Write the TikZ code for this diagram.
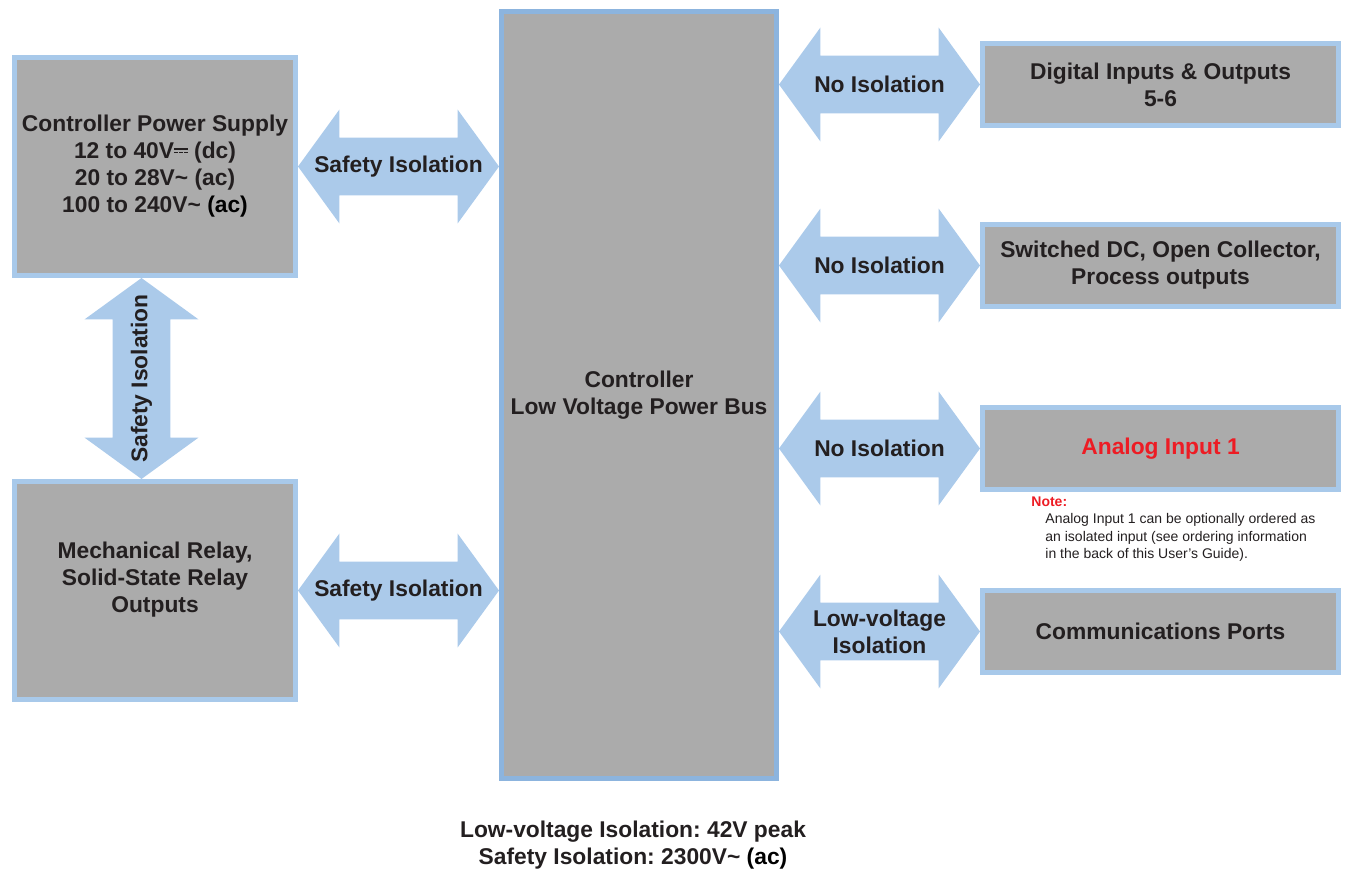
\documentclass[tikz,border=0pt]{standalone}
\usepackage{fontspec}
\setmainfont{Liberation Sans}
\usepackage{tikz}
\usetikzlibrary{
	positioning,
	shapes.arrows
}
\frenchspacing
\definecolor{BusBlue}{RGB}{140,180,222}
\definecolor{FrameBlue}{RGB}{168,201,234}
\definecolor{ArrowBlue}{RGB}{171,202,234}
\definecolor{UnitGray}{RGB}{171,171,171}
\definecolor{InkDark}{RGB}{35,31,32}
\definecolor{NoteRed}{RGB}{237,28,36}

% dc mark: solid bar over dashed bar
\newcommand{\dcsym}{%
	\raisebox{0.40em}{\rlap{\rule{0.6em}{0.08em}}}%
	\raisebox{0.24em}{\rule{0.16em}{0.08em}\hspace{0.06em}\rule{0.16em}{0.08em}\hspace{0.06em}\rule{0.16em}{0.08em}}}

\begin{document}
\begin{tikzpicture}[
	x=0.5pt, y=-0.5pt,
	unit/.style={
		draw=FrameBlue,
		fill=UnitGray,
		line width=2.5pt,
		text=InkDark,
		align=center,
		font={\fontsize{11.4}{13.5}\selectfont\bfseries}
	},
	port/.style={
		unit,
		minimum width=178pt,
		minimum height=41pt
	},
	isoarrow/.style={
		double arrow,
		fill=ArrowBlue,
		inner xsep=0pt,
		inner ysep=14.25pt,
		outer sep=0pt,
		minimum height=100.5pt,
		minimum width=56.5pt,
		double arrow head extend=14pt,
		double arrow tip angle=108
	},
	isotext/.style={
		text=InkDark,
		align=center,
		inner sep=0pt,
		font={\fontsize{11.4}{13.5}\selectfont\bfseries}
	}
	]
	
	\useasboundingbox (0,0) rectangle (1347,873);
	
	\node[
	unit,
	draw=BusBlue,
	minimum width=137.5pt,
	minimum height=383.5pt
	] (bus) at (639,395) {Controller\\Low Voltage Power Bus};
	
	\node[
	unit,
	left=100.5pt of bus.north west,
	anchor=north east,
	yshift=-23pt,
	minimum width=140.5pt,
	minimum height=109pt
	] (supply) {Controller Power Supply\\12 to 40V\dcsym{} (dc)\\20 to 28V\textasciitilde{} (ac)\\100 to 240V\textasciitilde{} \textcolor{black}{(ac)}};
	
	\node[
	unit,
	below=100.5pt of supply,
	minimum width=140.5pt,
	minimum height=109pt
	] (relay) {Mechanical Relay,\\Solid-State Relay\\Outputs\\\mbox{}};
	
	\node[
	port,
	right=100.5pt of bus.north east,
	anchor=north west,
	yshift=-16pt
	] (digital) {Digital Inputs \& Outputs\\5-6};
	
	\node[
	port,
	below=47pt of digital
	] (switched) {Switched DC, Open Collector,\\Process outputs};
	
	\node[
	port,
	below=48pt of switched,
	text=NoteRed
	] (analog) {Analog Input 1};
	
	\node[
	port,
	below=48pt of analog
	] (comms) {Communications Ports};
	
	\node[
	below right=2pt and 25.5pt of analog.south west,
	align=left,
	inner sep=0pt,
	text=InkDark,
	font={\fontsize{7}{8.75}\selectfont}
	] (note) {\textcolor{NoteRed}{\bfseries Note:}\\
		\hspace*{7pt}Analog Input 1 can be optionally ordered as\\
		\hspace*{7pt}an isolated input (see ordering information\\
		\hspace*{7pt}in the back of this User’s Guide).};
	
	\node[
	isotext,
	below=20pt of bus,
	xshift=-3pt
	] (legend) {Low-voltage Isolation: 42V peak\\Safety Isolation: 2300V\textasciitilde{} \textcolor{black}{(ac)}};
	
	% isolation arrows
	\path (supply.east) -- (supply.east -| bus.west)
	node[midway, isoarrow] (supplybus) {}
	node[midway, isotext] {Safety Isolation};
	
	\path (relay.east) -- (relay.east -| bus.west)
	node[midway, isoarrow] (relaybus) {}
	node[midway, isotext] {Safety Isolation};
	
	\coordinate (vtop) at ([xshift=-6.75pt]supply.south);
	\coordinate (vbot) at (vtop |- relay.north);
	\path (vtop) -- (vbot)
	node[midway, isoarrow, rotate=90] (supplyrelay) {}
	node[midway, isotext, rotate=90] {Safety Isolation};
	
	\path (bus.east |- digital.west) -- (digital.west)
	node[midway, isoarrow] (busdigital) {}
	node[midway, isotext] {No Isolation};
	
	\path (bus.east |- switched.west) -- (switched.west)
	node[midway, isoarrow] (busswitched) {}
	node[midway, isotext] {No Isolation};
	
	\path (bus.east |- analog.west) -- (analog.west)
	node[midway, isoarrow] (busanalog) {}
	node[midway, isotext] {No Isolation};
	
	\path (bus.east |- comms.west) -- (comms.west)
	node[midway, isoarrow] (buscomms) {}
	node[midway, isotext] {Low-voltage\\Isolation};
	
\end{tikzpicture}
\end{document}
